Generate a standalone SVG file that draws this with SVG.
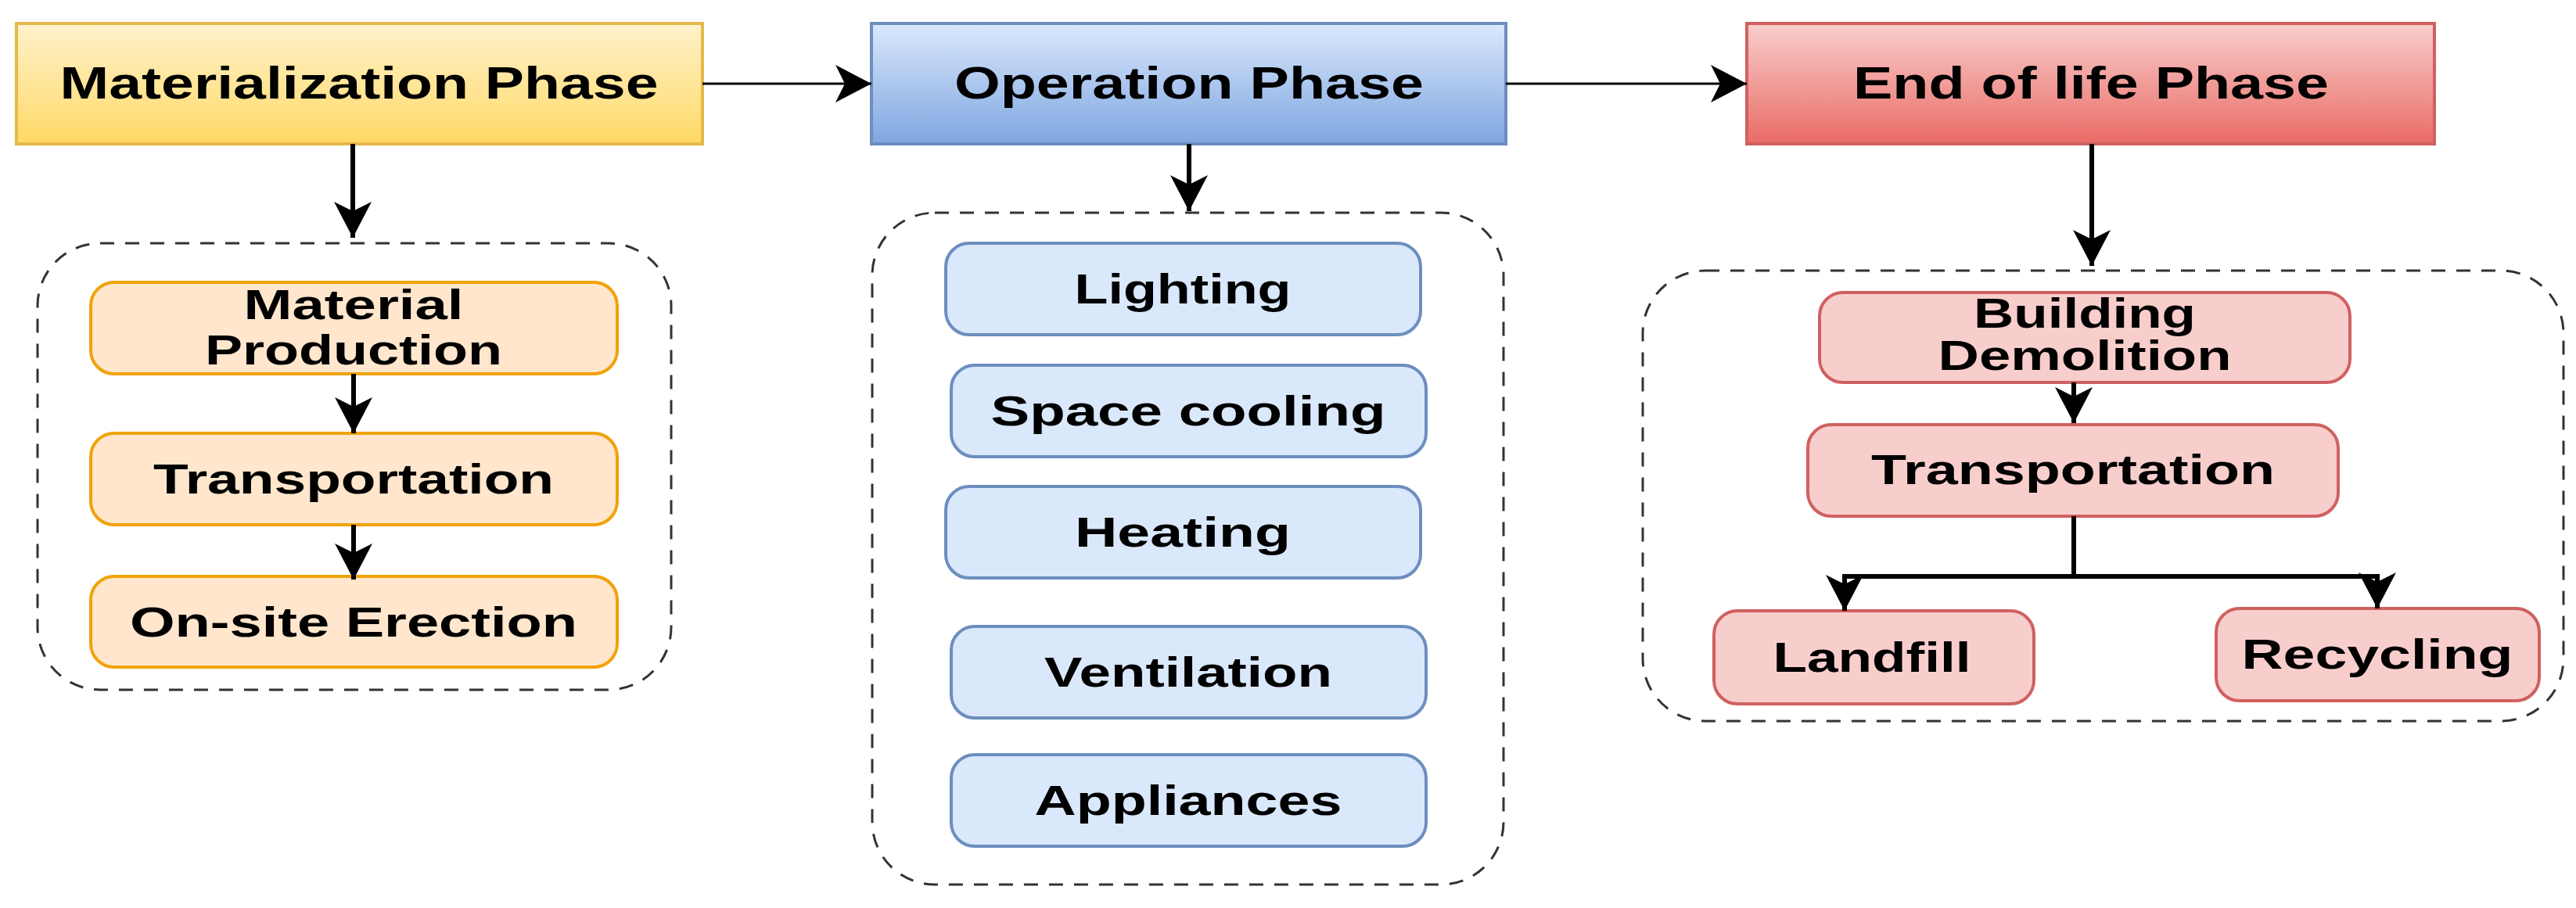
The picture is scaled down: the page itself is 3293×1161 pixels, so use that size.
<svg xmlns="http://www.w3.org/2000/svg" width="3293" height="1161" viewBox="0 0 3293 1161">
<defs>
<linearGradient id="gy" x1="0" y1="0" x2="0" y2="1"><stop offset="0" stop-color="#fff2cc"/><stop offset="1" stop-color="#ffd966"/></linearGradient>
<linearGradient id="gb" x1="0" y1="0" x2="0" y2="1"><stop offset="0" stop-color="#dae8fc"/><stop offset="1" stop-color="#7ea6e0"/></linearGradient>
<linearGradient id="gr" x1="0" y1="0" x2="0" y2="1"><stop offset="0" stop-color="#f8cecc"/><stop offset="1" stop-color="#ea6b66"/></linearGradient>
<marker id="ah" markerUnits="userSpaceOnUse" markerWidth="60" markerHeight="60" viewBox="0 0 60 60" refX="52" refY="30" orient="auto">
<path d="M6,6 L52,30 L6,54 L18,30 Z" fill="#000"/></marker>
<style>
text{font-family:"Liberation Sans",Arial,sans-serif;font-weight:bold;fill:#000;text-anchor:middle}
.ph{font-size:57px}
.it{font-size:53px}
.cont{fill:none;stroke:#333;stroke-width:3;stroke-dasharray:18 14}
.y{fill:#ffe6cc;stroke:#f0a30a;stroke-width:4}
.b{fill:#dae8fc;stroke:#6c8ebf;stroke-width:4}
.r{fill:#f8cecc;stroke:#d06060;stroke-width:4}
.c{fill:none;stroke:#000;stroke-width:6}
.ct{fill:none;stroke:#000;stroke-width:3}
</style>
</defs>
<rect width="3293" height="1161" fill="#fff"/>
<g id="containers">
<rect class="cont" x="48" y="311" width="810" height="571" rx="80"/>
<rect class="cont" x="1115" y="272" width="807" height="859" rx="80"/>
<rect class="cont" x="2100" y="346" width="1177" height="576" rx="80"/>
</g>
<g id="n-mat"><rect x="21" y="30" width="877" height="154" fill="url(#gy)" stroke="#e6b84a" stroke-width="4"/><text class="ph" x="459" y="126" textLength="765" lengthAdjust="spacingAndGlyphs">Materialization Phase</text></g>
<g id="n-op"><rect x="1114" y="30" width="811" height="154" fill="url(#gb)" stroke="#6c8ebf" stroke-width="4"/><text class="ph" x="1520" y="126" textLength="600" lengthAdjust="spacingAndGlyphs">Operation Phase</text></g>
<g id="n-end"><rect x="2233" y="30" width="879" height="154" fill="url(#gr)" stroke="#d06060" stroke-width="4"/><text class="ph" x="2673" y="126" textLength="608" lengthAdjust="spacingAndGlyphs">End of life Phase</text></g>
<g id="n-mp"><rect class="y" x="116" y="361" width="673" height="117" rx="30"/><text class="it" x="452" y="408" textLength="281" lengthAdjust="spacingAndGlyphs">Material</text><text class="it" x="452" y="466" textLength="380" lengthAdjust="spacingAndGlyphs">Production</text></g>
<g id="n-tr1"><rect class="y" x="116" y="554" width="673" height="117" rx="30"/><text class="it" x="452" y="631" textLength="512" lengthAdjust="spacingAndGlyphs">Transportation</text></g>
<g id="n-os"><rect class="y" x="116" y="737" width="673" height="116" rx="30"/><text class="it" x="452" y="814" textLength="572" lengthAdjust="spacingAndGlyphs">On-site Erection</text></g>
<g id="n-li"><rect class="b" x="1209" y="311" width="607" height="117" rx="30"/><text class="it" x="1512" y="388" textLength="277" lengthAdjust="spacingAndGlyphs">Lighting</text></g>
<g id="n-sc"><rect class="b" x="1216" y="467" width="607" height="117" rx="30"/><text class="it" x="1519" y="544" textLength="505" lengthAdjust="spacingAndGlyphs">Space cooling</text></g>
<g id="n-he"><rect class="b" x="1209" y="622" width="607" height="117" rx="30"/><text class="it" x="1512" y="699" textLength="276" lengthAdjust="spacingAndGlyphs">Heating</text></g>
<g id="n-ve"><rect class="b" x="1216" y="801" width="607" height="117" rx="30"/><text class="it" x="1519" y="878" textLength="368" lengthAdjust="spacingAndGlyphs">Ventilation</text></g>
<g id="n-ap"><rect class="b" x="1216" y="965" width="607" height="117" rx="30"/><text class="it" x="1519" y="1042" textLength="393" lengthAdjust="spacingAndGlyphs">Appliances</text></g>
<g id="n-bd"><rect class="r" x="2326" y="374" width="678" height="115" rx="30"/><text class="it" x="2665" y="419" textLength="284" lengthAdjust="spacingAndGlyphs">Building</text><text class="it" x="2665" y="473" textLength="375" lengthAdjust="spacingAndGlyphs">Demolition</text></g>
<g id="n-tr2"><rect class="r" x="2311" y="543" width="678" height="117" rx="30"/><text class="it" x="2650" y="619" textLength="516" lengthAdjust="spacingAndGlyphs">Transportation</text></g>
<g id="n-lf"><rect class="r" x="2191" y="781" width="409" height="119" rx="30"/><text class="it" x="2393" y="859" textLength="253" lengthAdjust="spacingAndGlyphs">Landfill</text></g>
<g id="n-re"><rect class="r" x="2833" y="778" width="413" height="118" rx="30"/><text class="it" x="3039" y="855" textLength="347" lengthAdjust="spacingAndGlyphs">Recycling</text></g>
<g id="connectors">
<path class="ct" d="M898,107 H1114" marker-end="url(#ah)"/>
<path class="ct" d="M1925,107 H2233" marker-end="url(#ah)"/>
<path class="c" d="M451,184 V304" marker-end="url(#ah)"/>
<path class="c" d="M1520,184 V270" marker-end="url(#ah)"/>
<path class="c" d="M2674,184 V340" marker-end="url(#ah)"/>
<path class="c" d="M452,478 V554" marker-end="url(#ah)"/>
<path class="c" d="M452,671 V741" marker-end="url(#ah)"/>
<path class="c" d="M2651,489 V541" marker-end="url(#ah)"/>
<path class="c" d="M2651,660 V737 H2358 V781" marker-end="url(#ah)"/>
<path class="c" d="M2651,737 H3039 V778" marker-end="url(#ah)"/>
</g>
</svg>
